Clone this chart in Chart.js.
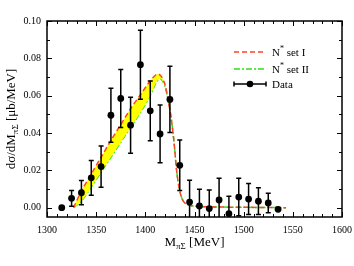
<!DOCTYPE html>
<html><head><meta charset="utf-8">
<script src="https://cdn.jsdelivr.net/npm/chart.js@4.4.1/dist/chart.umd.min.js"></script>
<style>html,body{margin:0;padding:0;background:#fff;overflow:hidden}</style>
</head><body>
<canvas id="c" width="354" height="266"></canvas>
<script>
// ---- data ----
const xTickLabels = [1300, 1350, 1400, 1450, 1500, 1550, 1600];
const yTickLabels = [0.00, 0.02, 0.04, 0.06, 0.08, 0.10];

const dataX   = [1315, 1325, 1335, 1345, 1355, 1365, 1375, 1385, 1395, 1405, 1415, 1425, 1435, 1445, 1455, 1465, 1475, 1485, 1495, 1505, 1515, 1525, 1535];
const dataY   = [0.0, 0.005, 0.008, 0.016, 0.022, 0.0495, 0.0585, 0.0442, 0.0766, 0.0519, 0.0395, 0.058, 0.0227, 0.003, 0.0009, -0.0005, 0.0041, -0.0032, 0.0057, 0.0046, 0.0035, 0.0025, -0.0009];
const dataErr = [0.0, 0.0042, 0.0065, 0.0093, 0.011, 0.0145, 0.0155, 0.015, 0.0185, 0.016, 0.0155, 0.0177, 0.0135, 0.0117, 0.009, 0.01, 0.0116, 0.0093, 0.01, 0.0083, 0.0072, 0.0052, 0.0];

const curveX = [1327, 1335, 1345, 1355, 1365, 1375, 1385, 1395, 1405, 1410, 1413, 1416, 1420, 1423, 1426, 1429, 1432, 1435, 1438, 1442, 1450, 1470, 1500, 1543];
const setI   = [0.0, 0.009, 0.018, 0.027, 0.036, 0.0445, 0.053, 0.0605, 0.068, 0.0708, 0.0716, 0.0705, 0.066, 0.058, 0.049, 0.036, 0.019, 0.009, 0.004, 0.0018, 0.0008, 0.0004, 0.0002, 0.0];
const setII  = [0.0, 0.0035, 0.011, 0.019, 0.027, 0.035, 0.043, 0.051, 0.060, 0.066, 0.0685, 0.069, 0.065, 0.058, 0.049, 0.036, 0.019, 0.009, 0.004, 0.0018, 0.0008, 0.0004, 0.0002, 0.0];

const seriesNames = ['N* set I', 'N* set II', 'Data'];

// ---- styling ----
const FONT = '"Liberation Serif", "Times New Roman", serif';
const RED = '#ff4326';
const GREEN = '#2ee01a';
const YELLOW = '#ffff00';

const pts = (xs, ys) => xs.map((v, i) => ({x: v, y: ys[i]}));

const decor = {
  id: 'decor',
  afterDatasetsDraw(chart) {
    const {ctx, chartArea: a, scales: {x, y}} = chart;
    ctx.save();
    ctx.beginPath(); ctx.rect(a.left, a.top, a.right - a.left, a.bottom - a.top); ctx.clip();
    ctx.strokeStyle = '#000'; ctx.lineWidth = 1.5;
    dataX.forEach((vx, i) => {
      const e = dataErr[i]; if (!e) return;
      const px = x.getPixelForValue(vx);
      const t = y.getPixelForValue(dataY[i] + e), b = y.getPixelForValue(dataY[i] - e);
      ctx.beginPath();
      ctx.moveTo(px, t); ctx.lineTo(px, b);
      ctx.moveTo(px - 2.5, t); ctx.lineTo(px + 2.5, t);
      ctx.moveTo(px - 2.5, b); ctx.lineTo(px + 2.5, b);
      ctx.stroke();
    });
    ctx.restore();
  },
  afterDraw(chart) {
    const {ctx, chartArea: a, scales: {x, y}} = chart;
    ctx.save();
    ctx.strokeStyle = '#000';
    ctx.lineWidth = 1;
    // ticks on all four sides, inward
    ctx.beginPath();
    for (let v = 1300; v <= 1600; v += 10) {
      const px = Math.round(x.getPixelForValue(v)) + 0.5;
      const len = (v % 50 === 0) ? 5 : 3;
      ctx.moveTo(px, a.bottom); ctx.lineTo(px, a.bottom - len);
      ctx.moveTo(px, a.top); ctx.lineTo(px, a.top + len);
    }
    for (let k = 0; k <= 10; k++) {
      const v = k / 100;
      const py = Math.round(y.getPixelForValue(v)) + 0.5;
      const len = (k % 2 === 0) ? 5 : 3;
      ctx.moveTo(a.left, py); ctx.lineTo(a.left + len, py);
      ctx.moveTo(a.right, py); ctx.lineTo(a.right - len, py);
    }
    ctx.stroke();
    // frame
    ctx.lineWidth = 1.5;
    ctx.strokeRect(a.left, a.top, a.right - a.left, a.bottom - a.top);

    // axis titles
    ctx.fillStyle = '#000';
    ctx.textBaseline = 'alphabetic';
    ctx.textAlign = 'left';
    const big = '13px ' + FONT, small = '9px ' + FONT;
    // x title
    ctx.font = big; const xa = 'M'; const xc = ' [MeV]';
    const wa = ctx.measureText(xa).width, wc = ctx.measureText(xc).width;
    ctx.font = small; const xb = 'πΣ'; const wb = ctx.measureText(xb).width;
    let sx = (a.left + a.right) / 2 - (wa + wb + wc) / 2;
    const by = 246;
    ctx.font = big; ctx.fillText(xa, sx, by);
    ctx.font = small; ctx.fillText(xb, sx + wa, by + 3);
    ctx.font = big; ctx.fillText(xc, sx + wa + wb, by);
    // y title
    ctx.save();
    ctx.translate(15, (a.top + a.bottom) / 2);
    ctx.rotate(-Math.PI / 2);
    ctx.font = big; const ya = 'dσ/dM', yc = ' [μb/MeV]';
    const w1 = ctx.measureText(ya).width, w3 = ctx.measureText(yc).width;
    ctx.font = small; const yb = 'πΣ'; const w2 = ctx.measureText(yb).width;
    let s = -(w1 + w2 + w3) / 2;
    ctx.font = big; ctx.fillText(ya, s, 0);
    ctx.font = small; ctx.fillText(yb, s + w1, 3);
    ctx.font = big; ctx.fillText(yc, s + w1 + w2, 0);
    ctx.restore();

    // legend
    const lx0 = 234, lx1 = 266, tx = 272;
    const rows = [52, 69, 84];
    ctx.lineWidth = 1.5;
    ctx.strokeStyle = RED; ctx.setLineDash([5, 3]);
    ctx.beginPath(); ctx.moveTo(lx0, rows[0]); ctx.lineTo(lx1, rows[0]); ctx.stroke();
    ctx.strokeStyle = GREEN; ctx.setLineDash([6, 2, 2, 2]);
    ctx.beginPath(); ctx.moveTo(lx0, rows[1]); ctx.lineTo(lx1, rows[1]); ctx.stroke();
    ctx.setLineDash([]);
    ctx.strokeStyle = '#000';
    ctx.beginPath();
    ctx.moveTo(lx0, rows[2]); ctx.lineTo(lx1, rows[2]);
    ctx.moveTo(lx0, rows[2] - 2.5); ctx.lineTo(lx0, rows[2] + 2.5);
    ctx.moveTo(lx1, rows[2] - 2.5); ctx.lineTo(lx1, rows[2] + 2.5);
    ctx.stroke();
    ctx.beginPath(); ctx.arc((lx0 + lx1) / 2, rows[2], 3.3, 0, Math.PI * 2); ctx.fillStyle = '#000'; ctx.fill();
    const lf = '11px ' + FONT, sf = '8px ' + FONT;
    [0, 1].forEach(i => {
      const name = seriesNames[i];
      ctx.font = lf; ctx.fillText('N', tx, rows[i] + 4);
      const wn = ctx.measureText('N').width;
      ctx.font = sf; ctx.fillText('*', tx + wn, rows[i] - 1);
      const ws = ctx.measureText('*').width;
      ctx.font = lf; ctx.fillText(name.slice(2), tx + wn + ws, rows[i] + 4);
    });
    ctx.font = lf; ctx.fillText(seriesNames[2], tx, rows[2] + 4);
    ctx.restore();
  }
};

new Chart(document.getElementById('c'), {
  type: 'line',
  data: {
    datasets: [
      { label: seriesNames[2], data: pts(dataX, dataY), showLine: false,
        pointRadius: 3.4, pointBackgroundColor: '#000', pointBorderColor: '#000', pointBorderWidth: 0 },
      { label: seriesNames[0], data: pts(curveX, setI), borderColor: RED, borderWidth: 1.5,
        borderDash: [5, 3], pointRadius: 0, tension: 0.3, fill: '+1', backgroundColor: YELLOW },
      { label: seriesNames[1], data: pts(curveX, setII), borderColor: GREEN, borderWidth: 1.5,
        borderDash: [6, 2, 2, 2], pointRadius: 0, tension: 0.3, fill: false }
    ]
  },
  options: {
    responsive: false,
    animation: false,
    devicePixelRatio: 1,
    layout: { padding: { left: 0, top: 21, right: 12, bottom: 0 } },
    plugins: { legend: { display: false }, tooltip: { enabled: false } },
    scales: {
      x: {
        type: 'linear', min: 1300, max: 1600,
        afterBuildTicks: s => { s.ticks = xTickLabels.map(v => ({value: v})); },
        afterFit: s => { s.height = 49; s.paddingLeft = 0; s.paddingRight = 0; },
        grid: { display: false, drawTicks: false },
        border: { display: false },
        ticks: { font: { family: FONT, size: 10 }, color: '#000', padding: 7, maxRotation: 0,
                 callback: v => String(v) }
      },
      y: {
        type: 'linear', min: -0.005, max: 0.10,
        afterBuildTicks: s => { s.ticks = yTickLabels.map(v => ({value: v})); },
        afterFit: s => { s.width = 47; s.paddingTop = 0; s.paddingBottom = 0; },
        grid: { display: false, drawTicks: false },
        border: { display: false },
        ticks: { font: { family: FONT, size: 10 }, color: '#000', padding: 6,
                 callback: v => Number(v).toFixed(2) }
      }
    }
  },
  plugins: [decor]
});
</script>
</body></html>
